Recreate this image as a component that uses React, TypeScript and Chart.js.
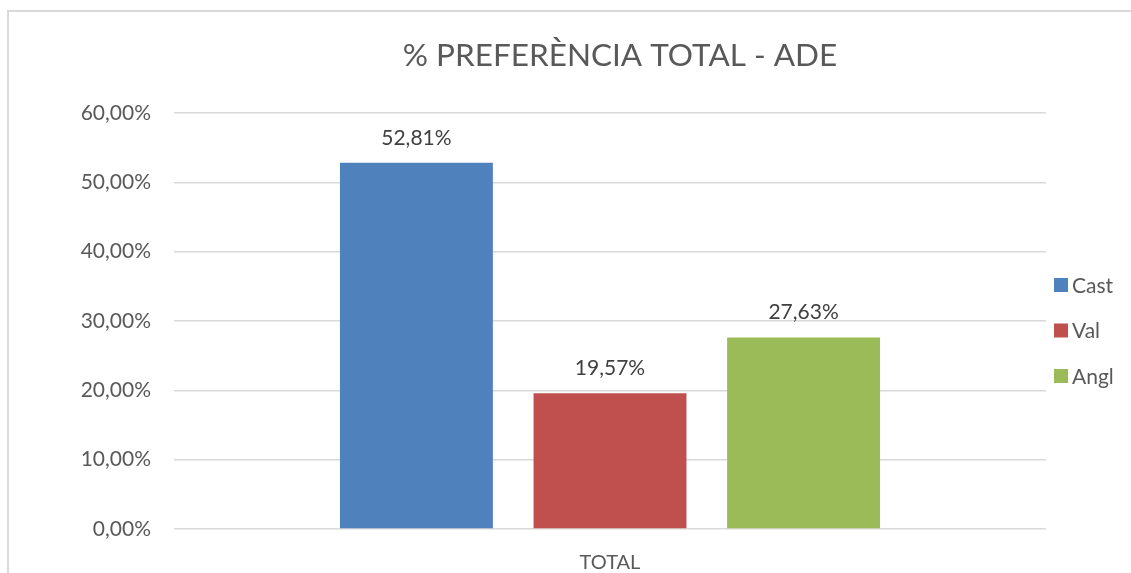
import React, { useEffect, useRef } from "react";
import { Chart, registerables } from "chart.js";

Chart.register(...registerables);

const categories = ["TOTAL"];
const seriesNames = ["Cast", "Val", "Angl"];
const seriesValues = [[52.81], [19.57], [27.63]];
const seriesColors = ["#4F81BD", "#C0504D", "#9BBB59"];
const yTicks = [0, 10, 20, 30, 40, 50, 60];
const titleText = "% PREFERÈNCIA TOTAL - ADE";

const FONT = "Lato, 'Open Sans', sans-serif";
const fmt = (v: number) => v.toFixed(2).replace(".", ",") + "%";

const overlayPlugin = {
  id: "overlay",
  afterDatasetsDraw(chart: any) {
    const ctx = chart.ctx;
    const area = chart.chartArea;
    ctx.save();
    // data labels
    ctx.font = `21px ${FONT}`;
    ctx.fillStyle = "#404040";
    ctx.textAlign = "center";
    ctx.textBaseline = "middle";
    chart.data.datasets.forEach((ds: any, i: number) => {
      const meta = chart.getDatasetMeta(i);
      meta.data.forEach((bar: any, j: number) => {
        ctx.fillText(fmt(ds.data[j]), bar.x, bar.y - 25);
      });
    });
    // title
    ctx.font = `31.5px ${FONT}`;
    ctx.fillStyle = "#595959";
    ctx.fillText(titleText, (area.left + area.right) / 2 + 10, 56);
    // legend
    ctx.font = `21px ${FONT}`;
    ctx.textAlign = "left";
    chart.data.datasets.forEach((ds: any, i: number) => {
      const cy = 285 + i * 45.5;
      ctx.fillStyle = ds.backgroundColor;
      ctx.fillRect(1054, cy - 7, 14, 14);
      ctx.fillStyle = "#595959";
      ctx.fillText(ds.label, 1072, cy + 1);
    });
    ctx.restore();
  },
};

export default function App() {
  const ref = useRef<HTMLCanvasElement>(null);
  useEffect(() => {
    if (!ref.current) return;
    const chart = new Chart(ref.current, {
      type: "bar",
      data: {
        labels: categories,
        datasets: seriesNames.map((name, i) => ({
          label: name,
          data: seriesValues[i],
          backgroundColor: seriesColors[i],
          borderWidth: 0,
          categoryPercentage: 0.666,
          barPercentage: 0.79,
        })),
      },
      options: {
        animation: false,
        responsive: false,
        maintainAspectRatio: false,
        layout: { padding: { top: 113, right: 85, left: 0, bottom: 0 } },
        plugins: {
          legend: { display: false },
          title: { display: false },
          tooltip: { enabled: false },
        },
        scales: {
          x: {
            grid: { display: false },
            border: { display: false },
            ticks: {
              color: "#595959",
              font: { family: FONT, size: 20 },
              padding: 14,
            },
            afterFit: (s: any) => {
              s.height = 44;
            },
          },
          y: {
            min: 0,
            max: 60,
            afterBuildTicks: (s: any) => {
              s.ticks = yTicks.map((v) => ({ value: v }));
            },
            grid: { color: "#d9d9d9", lineWidth: 1.5, drawTicks: false },
            border: { display: false },
            ticks: {
              color: "#595959",
              font: { family: FONT, size: 21 },
              padding: 23,
              callback: (v: any) => fmt(Number(v)),
            },
            afterFit: (s: any) => {
              s.width = 174;
            },
          },
        },
      },
      plugins: [overlayPlugin],
    });
    return () => chart.destroy();
  }, []);

  return (
    <div style={{ position: "absolute", left: 0, top: 0, width: 1131, height: 573, overflow: "hidden", background: "#fff" }}>
      <div
        style={{
          position: "absolute",
          left: 7,
          top: 10,
          width: 1200,
          height: 700,
          borderLeft: "2px solid #d9d9d9",
          borderTop: "2px solid #d9d9d9",
          boxSizing: "border-box",
        }}
      />
      <canvas ref={ref} width={1131} height={573} style={{ position: "absolute", left: 0, top: 0 }} />
    </div>
  );
}
